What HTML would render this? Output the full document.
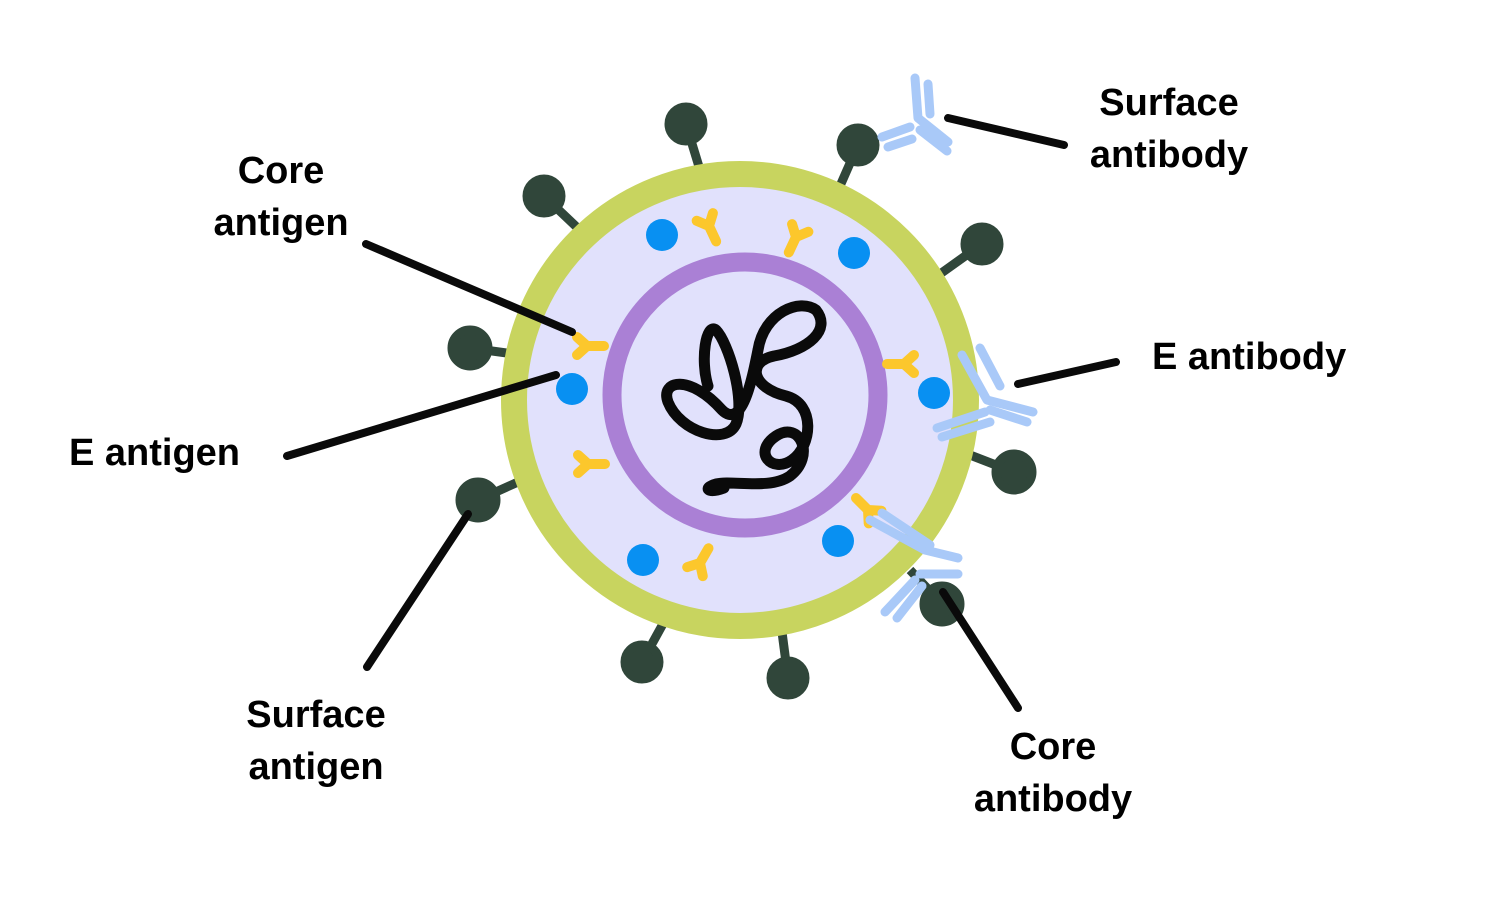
<!DOCTYPE html>
<html><head><meta charset="utf-8"><style>
html,body{margin:0;padding:0;background:#fff;}
svg{display:block}
text{font-family:"Liberation Sans",Arial,sans-serif;font-size:38px;font-weight:bold;fill:#000;}
</style></head><body>
<svg width="1488" height="902" viewBox="0 0 1488 902" xmlns="http://www.w3.org/2000/svg">
<defs>
<g id="y"><path d="M0 0 L17 0 M0 0 L-10 -9 M0 0 L-10 9" stroke="#fcc72c" stroke-width="10" stroke-linecap="round" stroke-linejoin="round" fill="none"/></g>
</defs>
<g stroke="#30463a" stroke-width="9" fill="#30463a">
<line x1="686" y1="124" x2="700" y2="170"/><circle cx="686" cy="124" r="17"/>
<line x1="858" y1="145" x2="840" y2="186"/><circle cx="858" cy="145" r="17"/>
<line x1="544" y1="196" x2="584" y2="234"/><circle cx="544" cy="196" r="17"/>
<line x1="982" y1="244" x2="940" y2="274"/><circle cx="982" cy="244" r="17"/>
<line x1="470" y1="348" x2="514" y2="354"/><circle cx="470" cy="348" r="18"/>
<line x1="1014" y1="472" x2="970" y2="455"/><circle cx="1014" cy="472" r="18"/>
<line x1="478" y1="500" x2="518" y2="482"/><circle cx="478" cy="500" r="18"/>
<line x1="942" y1="604" x2="910" y2="570"/><circle cx="942" cy="604" r="18"/>
<line x1="642" y1="662" x2="664" y2="622"/><circle cx="642" cy="662" r="17"/>
<line x1="788" y1="678" x2="782" y2="632"/><circle cx="788" cy="678" r="17"/>
</g>
<circle cx="740" cy="400" r="226" fill="#e1e1fc" stroke="#c8d45f" stroke-width="26"/>
<circle cx="745" cy="395" r="133" fill="#e1e1fc" stroke="#aa80d5" stroke-width="19"/>
<g fill="#0890f2">
<circle cx="662" cy="235" r="16"/><circle cx="854" cy="253" r="16"/><circle cx="572" cy="389" r="16"/>
<circle cx="934" cy="393" r="16"/><circle cx="838" cy="541" r="16"/><circle cx="643" cy="560" r="16"/>
</g>
<use href="#y" transform="translate(587,346)"/>
<use href="#y" transform="translate(588,464)"/>
<use href="#y" transform="translate(709,226) rotate(65)"/>
<use href="#y" transform="translate(796,237) rotate(115)"/>
<use href="#y" transform="translate(904,364) rotate(180)"/>
<use href="#y" transform="translate(868,510) rotate(225)"/>
<use href="#y" transform="translate(700,563) rotate(-60)"/>
<path d="M708 386 C700 360 706 322 716 330 C728 342 746 400 736 424 C726 446 680 432 668 402 C660 380 690 374 722 410 C742 430 752 380 758 350 C764 312 800 298 816 310 C832 330 808 350 774 356 C746 362 752 388 786 396 C816 404 812 446 792 460 C772 474 752 452 776 436 C800 420 816 456 790 476 C770 490 732 480 716 484 C702 488 708 494 724 488"
 fill="none" stroke="#0a0a0a" stroke-width="11" stroke-linecap="round" stroke-linejoin="round"/>
<g stroke="#a9c9f8" stroke-width="9" stroke-linecap="round" stroke-linejoin="round" fill="none">
<path d="M915 78 L918 118 L948 142"/><path d="M928 84 L930 114"/><path d="M920 130 L947 151"/>
<path d="M882 137 L910 127"/><path d="M888 147 L912 139"/>
<path d="M962 355 L987 400 L1033 412"/><path d="M980 348 L1000 386"/><path d="M1027 422 L990 410"/>
<path d="M937 428 L985 412"/><path d="M942 437 L990 422"/>
<path d="M870 520 L925 550 L958 558"/><path d="M882 513 L930 545"/>
<path d="M920 574 L958 574"/><path d="M885 612 L915 580"/><path d="M897 618 L922 586"/>
</g>
<g stroke="#0a0a0a" stroke-width="8" stroke-linecap="round">
<line x1="366" y1="244" x2="572" y2="332"/>
<line x1="287" y1="456" x2="556" y2="375"/>
<line x1="367" y1="667" x2="468" y2="514"/>
<line x1="948" y1="118" x2="1064" y2="145"/>
<line x1="1018" y1="384" x2="1116" y2="362"/>
<line x1="943" y1="592" x2="1018" y2="708"/>
</g>
<g text-anchor="middle">
<text x="281" y="183">Core</text><text x="281" y="235">antigen</text>
<text x="1169" y="115">Surface</text><text x="1169" y="167">antibody</text>
<text x="316" y="727">Surface</text><text x="316" y="779">antigen</text>
<text x="1053" y="759">Core</text><text x="1053" y="811">antibody</text>
</g>
<text x="1152" y="369">E antibody</text>
<text x="69" y="465">E antigen</text>
</svg>
</body></html>
